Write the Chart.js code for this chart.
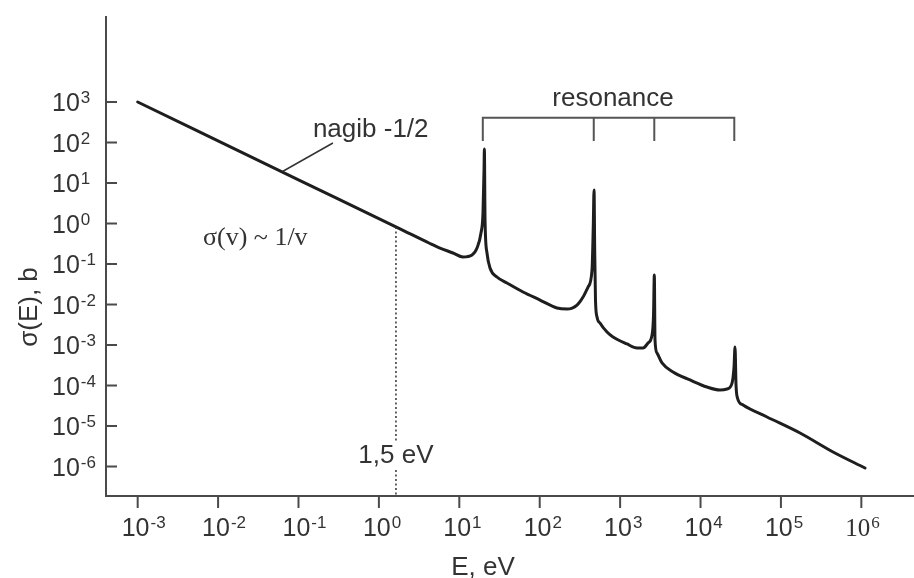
<!DOCTYPE html>
<html>
<head>
<meta charset="utf-8">
<script src="https://cdn.jsdelivr.net/npm/chart.js@4.4.0/dist/chart.umd.min.js"></script>
<style>
html, body { margin: 0; padding: 0; background: #fff; }
#wrap { width: 914px; height: 578px; position: relative; }
</style>
</head>
<body>
<div id="wrap"><canvas id="sigma_chart"></canvas></div>
<script>
// -------------------
// DATA
// -------------------
// energy in eV
var energy = [
    1.00e-3, 0.1045, 1.83, 4.32, 5.75, 8.35, 11.1, 14.4, 16.6, 18.6,
    19.7, 20.3, 20.5, 20.9, 22.1, 24.1, 29.4, 39.2, 62.0, 101,
    164, 219, 291, 346, 399, 447, 464, 474, 483, 494,
    516, 562, 687, 816, 1218, 1622, 1927, 2223, 2494, 2603,
    2664, 2717, 2877, 3320, 4550, 7405, 12040, 17480, 21360, 24650,
    26100, 26860, 27640, 28840, 33790, 67160, 172800, 444600, 1.112e6
];
// cross-section in barns
var sigma = [
    1.00e3, 11.5, 0.736, 0.321, 0.248, 0.187, 0.149, 0.167, 0.248, 0.582,
    1.82, 20.9, 69, 1.22, 0.187, 0.0796, 0.0478, 0.0340, 0.0204, 0.0129,
    0.0082, 0.00774, 0.00972, 0.0153, 0.0270, 0.0711, 0.918, 6.72, 0.222, 0.0129,
    0.00491, 0.00349, 0.00209, 0.00158, 0.00106, 0.000843, 0.000843, 0.00112, 0.00177, 0.00551,
    0.0535, 0.00133, 0.000634, 0.000360, 0.000215, 0.000137, 9.18e-5, 7.74e-5, 8.2e-5, 1.15e-4,
    2.86e-4, 8.93e-4, 1.03e-4, 4.91e-5, 3.30e-5, 1.67e-5, 6.71e-6, 2.28e-6, 9.18e-7
];

// TICKS
var xTicks = [1e-3, 1e-2, 1e-1, 1e0, 1e1, 1e2, 1e3, 1e4, 1e5, 1e6];
var xTickExp = ['-3', '-2', '-1', '0', '1', '2', '3', '4', '5', '6'];
var yTicks = [1e-6, 1e-5, 1e-4, 1e-3, 1e-2, 1e-1, 1e0, 1e1, 1e2, 1e3];
var yTickExp = ['-6', '-5', '-4', '-3', '-2', '-1', '0', '1', '2', '3'];

// ANNOTATIONS
var resonanceE = [19.6, 470, 2660, 26300];
var bracketSigma = [409, 109];            // top bar, bottom of the legs
var resonanceLabel = { text: 'resonance', e: 816, s: 796 };
var markE = 1.63;                          // dotted 1,5 eV line
var markSigma = 0.82;
var markLabel = { text: '1,5 eV', e: 1.63, s: 1.22e-6 };
var slopeLabel = { text: 'nagib -1/2', e: 0.151, s: 137 };
var slopeLeader = { e: [0.268, 0.0641], s: [97.3, 19.5] };
var lawLabel = { text: 'σ(v) ~ 1/v', e: 0.00649, s: 0.294 };

var xTitle = 'E, eV';
var yTitle = 'σ(E), b';

// -------------------
// CHART
// -------------------
const colors = {
    curve: '#1e1e1e',
    axis: '#4a4a4a',
    text: '#333333',
    bracket: '#555555',
};
const sans = 'Liberation Sans, Arial, sans-serif';
const serif = 'Liberation Serif, Times New Roman, serif';

function drawPower(ctx, left, baseline, exp, family) {
    ctx.font = '25px ' + family;
    ctx.textAlign = 'left';
    ctx.textBaseline = 'alphabetic';
    ctx.fillText('10', left, baseline);
    var w = ctx.measureText('10').width;
    ctx.font = '17px ' + family;
    ctx.fillText(exp, left + w + 1, baseline - 8);
}

function segment(ctx, x1, y1, x2, y2) {
    ctx.beginPath();
    ctx.moveTo(x1, y1);
    ctx.lineTo(x2, y2);
    ctx.stroke();
}

const decor = {
    id: 'decor',
    afterDraw: function (chart) {
        var ctx = chart.ctx;
        var xs = chart.scales.x;
        var ys = chart.scales.y;
        var area = chart.chartArea;
        ctx.save();

        // tick marks + labels
        ctx.strokeStyle = colors.axis;
        ctx.fillStyle = colors.text;
        ctx.lineWidth = 2;
        xTicks.forEach(function (v, i) {
            var px = xs.getPixelForValue(v);
            segment(ctx, px, area.bottom, px, area.bottom + 12);
            drawPower(ctx, px - 16, area.bottom + 40, xTickExp[i], i == xTicks.length - 1 ? serif : sans);
        });
        yTicks.forEach(function (v, i) {
            var py = ys.getPixelForValue(v);
            segment(ctx, area.left, py, area.left + 11, py);
            drawPower(ctx, 52, py + 9, yTickExp[i], sans);
        });

        // axis titles
        ctx.font = '26px ' + sans;
        ctx.textAlign = 'center';
        ctx.fillText(xTitle, 483, 575);
        ctx.save();
        ctx.translate(37, 307);
        ctx.rotate(-Math.PI / 2);
        ctx.fillText(yTitle, 0, 0);
        ctx.restore();

        // dotted marker
        var mx = xs.getPixelForValue(markE);
        ctx.strokeStyle = '#333';
        ctx.lineWidth = 1.5;
        ctx.setLineDash([2, 2.5]);
        segment(ctx, mx, ys.getPixelForValue(markSigma), mx, area.bottom);
        ctx.setLineDash([]);
        var ly = ys.getPixelForValue(markLabel.s);
        ctx.font = '26px ' + sans;
        var lw = ctx.measureText(markLabel.text).width;
        ctx.fillStyle = '#fff';
        ctx.fillRect(xs.getPixelForValue(markLabel.e) - lw / 2 - 2, ly - 22, lw + 4, 28);
        ctx.fillStyle = colors.text;
        ctx.textAlign = 'center';
        ctx.fillText(markLabel.text, xs.getPixelForValue(markLabel.e), ly);

        // resonance bracket
        ctx.strokeStyle = colors.bracket;
        ctx.lineWidth = 2;
        var top = ys.getPixelForValue(bracketSigma[0]);
        var bottom = ys.getPixelForValue(bracketSigma[1]);
        ctx.beginPath();
        ctx.moveTo(xs.getPixelForValue(resonanceE[0]), bottom);
        ctx.lineTo(xs.getPixelForValue(resonanceE[0]), top);
        ctx.lineTo(xs.getPixelForValue(resonanceE[resonanceE.length - 1]), top);
        ctx.lineTo(xs.getPixelForValue(resonanceE[resonanceE.length - 1]), bottom);
        ctx.stroke();
        resonanceE.slice(1, -1).forEach(function (e) {
            var px = xs.getPixelForValue(e);
            segment(ctx, px, top, px, bottom);
        });
        ctx.font = '26px ' + sans;
        ctx.textAlign = 'center';
        ctx.fillText(resonanceLabel.text, xs.getPixelForValue(resonanceLabel.e), ys.getPixelForValue(resonanceLabel.s));

        // slope label + leader
        ctx.strokeStyle = '#333';
        ctx.lineWidth = 1.5;
        segment(ctx,
            xs.getPixelForValue(slopeLeader.e[0]), ys.getPixelForValue(slopeLeader.s[0]),
            xs.getPixelForValue(slopeLeader.e[1]), ys.getPixelForValue(slopeLeader.s[1]));
        ctx.textAlign = 'left';
        ctx.fillText(slopeLabel.text, xs.getPixelForValue(slopeLabel.e), ys.getPixelForValue(slopeLabel.s));

        ctx.font = '26px ' + serif;
        ctx.fillText(lawLabel.text, xs.getPixelForValue(lawLabel.e), ys.getPixelForValue(lawLabel.s));

        ctx.restore();
    }
};

const options = {
    responsive: true,
    maintainAspectRatio: false,
    animation: false,
    layout: {
        autoPadding: false,
        padding: { left: 106, top: 17, right: 0, bottom: 82 },
    },
    plugins: {
        legend: { display: false },
        tooltip: { enabled: false },
    },
    elements: {
        point: { radius: 0 },
    },
    scales: {
        x: {
            type: 'logarithmic',
            min: Math.pow(10, -3.394),
            max: Math.pow(10, 6.655),
            grid: { display: false, drawTicks: false },
            ticks: { display: false },
            border: { display: true, color: colors.axis, width: 2 },
        },
        y: {
            type: 'logarithmic',
            min: Math.pow(10, -6.728),
            max: Math.pow(10, 5.099),
            grid: { display: false, drawTicks: false },
            ticks: { display: false },
            border: { display: true, color: colors.axis, width: 2 },
        }
    },
};

var points = energy.map(function (e, i) { return { x: e, y: sigma[i] }; });

var ctx = document.getElementById('sigma_chart').getContext('2d');
var myChart = new Chart(ctx, {
    type: 'line',
    data: {
        datasets: [{
            label: 'σ(E)',
            data: points,
            borderColor: colors.curve,
            borderWidth: 3,
            cubicInterpolationMode: 'monotone',
            borderJoinStyle: 'round',
            borderCapStyle: 'round',
            fill: false,
        }]
    },
    options: options,
    plugins: [decor],
});
</script>
</body>
</html>
